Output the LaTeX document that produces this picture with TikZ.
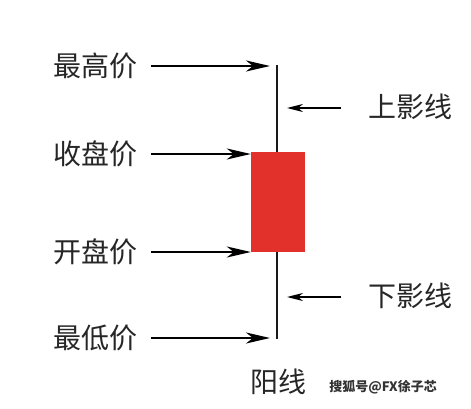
\documentclass[tikz,border=0pt]{standalone}
\usepackage{fontspec}
\setmainfont{Noto Sans CJK SC}
\usetikzlibrary{arrows.meta}
\definecolor{bodyred}{HTML}{E2302B}
\begin{document}
\begin{tikzpicture}[x=1pt,y=-1pt,
  lbl/.style={font=\fontsize{28}{30}\selectfont, inner sep=0pt, text=black!85},
  bigarrow/.style={line width=2.4pt, -{Stealth[length=24pt,width=11pt,inset=7pt]}},
  smallarrow/.style={line width=1.4pt, -{Stealth[length=16pt,width=8pt,inset=5pt]}}]
\useasboundingbox (0,0) rectangle (471,409);
\fill[white] (0,0) rectangle (471,409);
% wick and body
\coordinate (wtop) at (277,65);
\coordinate (wbot) at (277,339);
\draw[line width=2.6pt, black!90] (wtop) -- (wbot);
\node[draw=none, fill=bodyred, minimum width=54pt, minimum height=100pt, inner sep=0pt] (body) at (278,202) {};
% left labels
\node[lbl] (high) at (95,66) {最高价};
\node[lbl] (close) at (95,154) {收盘价};
\node[lbl] (open) at (95,252) {开盘价};
\node[lbl] (low) at (95,338) {最低价};
\coordinate (hightip) at (270,66);
\coordinate (lowtip) at (270,338);
\draw[bigarrow] (high.east) ++(14,0) -- (hightip);
\draw[bigarrow] (close.east) ++(14,0) -- (body.west |- close);
\draw[bigarrow] (open.east) ++(14,0) -- (body.west |- open);
\draw[bigarrow] (low.east) ++(14,0) -- (lowtip);
% right labels
\node[lbl] (upper) at (410,107) {上影线};
\node[lbl] (lower) at (410,296) {下影线};
\coordinate (uptip) at (287,108);
\coordinate (lotip) at (287,297);
\draw[smallarrow] (341,108) -- (uptip);
\draw[smallarrow] (341,297) -- (lotip);
% caption
\node[lbl] (yang) at (278,382) {阳线};
\node[font=\fontsize{13}{14}\selectfont\bfseries, text=black!80, inner sep=0pt] (wm) at (383,387) {搜狐号@FX徐子芯};
\end{tikzpicture}
\end{document}
